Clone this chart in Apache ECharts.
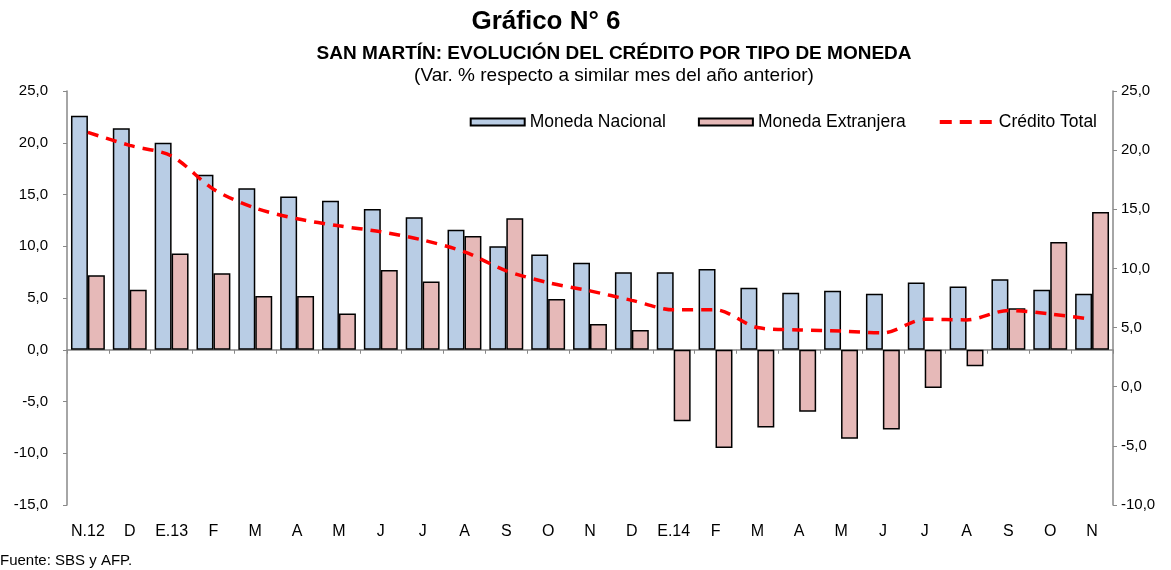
<!DOCTYPE html>
<html><head><meta charset="utf-8">
<script src="https://cdn.jsdelivr.net/npm/echarts@6/dist/echarts.min.js"></script>
<style>html,body{margin:0;padding:0;background:#fff}#c{width:1171px;height:570px}</style>
</head><body><div id="c"></div>
<script>
const categories = ['N.12','D','E.13','F','M','A','M','J','J','A','S','O','N','D','E.14','F','M','A','M','J','J','A','S','O','N'];
const monedaNacional = [22.6,21.4,20.0,16.9,15.6,14.8,14.4,13.6,12.8,11.6,10.0,9.2,8.4,7.5,7.5,7.8,6.0,5.5,5.7,5.4,6.5,6.1,6.8,5.8,5.4];
const monedaExtranjera = [7.2,5.8,9.3,7.4,5.2,5.2,3.5,7.7,6.6,11.0,12.7,4.9,2.5,1.9,-6.9,-9.5,-7.5,-6.0,-8.6,-7.7,-3.7,-1.6,4.0,10.4,13.3];
const creditoTotal = [21.5,20.4,19.5,16.7,15.1,14.2,13.6,13.1,12.4,11.4,9.8,8.8,8.1,7.3,6.5,6.5,5.0,4.8,4.7,4.55,5.7,5.65,6.45,6.15,5.7];
const leftTicks = {min:-15,max:25,interval:5};
const rightTicks = {min:-10,max:25,interval:5};

const FONT = '"Liberation Sans", Arial, sans-serif';
const fmt = v => v.toFixed(1).replace('.', ',');
const chart = echarts.init(document.getElementById('c'));
chart.setOption({
  animation:false,
  backgroundColor:'#fff',
  title:[
    {text:'Gráfico N° 6', left:546, top:9, padding:0, textAlign:'center', textStyle:{fontFamily:FONT,fontSize:26,fontWeight:'bold',color:'#000'}},
    {text:'SAN MARTÍN: EVOLUCIÓN DEL CRÉDITO POR TIPO DE MONEDA', left:614, top:44, padding:0, textAlign:'center', textStyle:{fontFamily:FONT,fontSize:19,fontWeight:'bold',color:'#000'}},
    {text:'(Var. % respecto a similar mes del año anterior)', left:614, top:66, padding:0, textAlign:'center', textStyle:{fontFamily:FONT,fontSize:19,fontWeight:'normal',color:'#000'}},
    {text:'Fuente: SBS y AFP.', left:0, top:553, padding:0, textStyle:{fontFamily:FONT,fontSize:15,fontWeight:'normal',color:'#000'}}
  ],
  legend:{
    top:113, right:74, padding:0, itemGap:32, itemWidth:54, itemHeight:7,
    textStyle:{fontFamily:FONT,fontSize:17.5,color:'#000'},
    data:[
      {name:'Moneda Nacional', icon:'rect'},
      {name:'Moneda Extranjera', icon:'rect'},
      {name:'Crédito Total', itemStyle:{color:'rgba(0,0,0,0)', borderWidth:0, opacity:0},
       lineStyle:{color:'#FF0000', width:4, type:[12,8]}}
    ]
  },
  grid:{left:67, right:58, top:91, bottom:65, containLabel:false},
  xAxis:[
    {type:'category', data:categories, position:'bottom',
     axisLine:{show:false,onZero:false}, axisTick:{show:false},
     axisLabel:{fontFamily:FONT,fontSize:16,color:'#000',margin:19,interval:0}},
    {type:'category', data:categories, position:'bottom',
     axisLine:{show:true,onZero:true,lineStyle:{color:'#888',width:1.5}},
     axisTick:{show:true,length:4,lineStyle:{color:'#888'}},
     axisLabel:{show:false}}
  ],
  yAxis:[
    {type:'value', min:leftTicks.min, max:leftTicks.max, interval:leftTicks.interval, position:'left',
     splitLine:{show:false},
     axisLine:{show:true,lineStyle:{color:'#888',width:1.5}},
     axisTick:{show:true,length:4,lineStyle:{color:'#888'}},
     axisLabel:{fontFamily:FONT,fontSize:15,color:'#000',margin:19,formatter:fmt}},
    {type:'value', min:rightTicks.min, max:rightTicks.max, interval:rightTicks.interval, position:'right',
     splitLine:{show:false},
     axisLine:{show:true,lineStyle:{color:'#888',width:1.5}},
     axisTick:{show:true,length:4,lineStyle:{color:'#888'}},
     axisLabel:{fontFamily:FONT,fontSize:15,color:'#000',margin:8,formatter:fmt}}
  ],
  series:[
    {name:'Moneda Nacional', type:'bar', xAxisIndex:0, yAxisIndex:0, data:monedaNacional,
     barWidth:'40.5%', barGap:'0%',
     itemStyle:{color:'#B9CDE5', borderColor:'#000', borderWidth:1.5}},
    {name:'Moneda Extranjera', type:'bar', xAxisIndex:0, yAxisIndex:0, data:monedaExtranjera,
     barWidth:'40.5%', barGap:'0%',
     itemStyle:{color:'#E6B9B8', borderColor:'#000', borderWidth:1.5}},
    {name:'Crédito Total', type:'line', xAxisIndex:0, yAxisIndex:1, data:creditoTotal,
     smooth:0.3, symbol:'none', z:5,
     lineStyle:{color:'#FF0000', width:3.5, type:[11,8]},
     itemStyle:{color:'#FF0000'}}
  ]
});
</script></body></html>
